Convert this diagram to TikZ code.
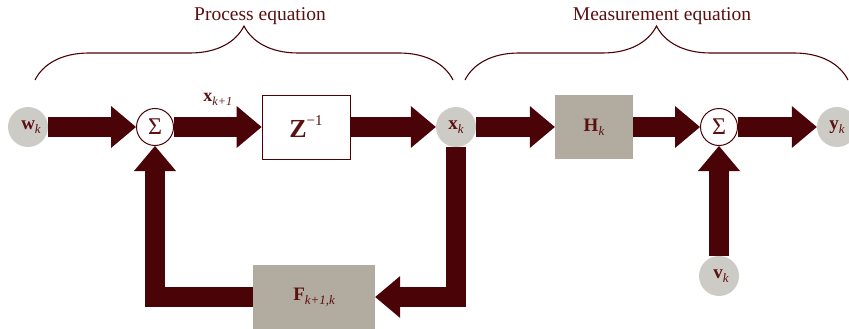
\documentclass[tikz,border=0pt]{standalone}
\usepackage{fontspec}
\usepackage{graphicx}
\setmainfont{Liberation Serif}
\usetikzlibrary{arrows.meta, decorations.pathreplacing, calc}

\definecolor{darkmaroon}{RGB}{74,3,7}
\definecolor{txtmaroon}{RGB}{92,16,16}
\definecolor{signalgray}{RGB}{204,203,198}
\definecolor{boxgray}{RGB}{178,171,159}

% bold signal name with italic subscript
\newcommand{\sig}[2]{\textbf{#1}\raisebox{-0.45ex}{\scalebox{0.68}{\itshape\mdseries #2}}}

\tikzset{
    flow/.style={draw=darkmaroon, line width=20pt, line join=miter,
        -{Triangle[length=25pt, width=42pt, line width=0pt]}},
    signal/.style={circle, fill=signalgray, minimum size=40pt, inner sep=0pt,
        text=txtmaroon, font=\fontsize{19}{20}\selectfont},
    adder/.style={circle, draw=darkmaroon, fill=white, line width=1pt, minimum size=37pt,
        inner sep=0pt, text=txtmaroon, font=\fontsize{24}{24}\selectfont},
    block/.style={rectangle, minimum height=64pt, inner sep=0pt,
        text=txtmaroon, font=\fontsize{19}{20}\selectfont},
    equbrace/.style={draw=darkmaroon, line width=1.1pt, decorate,
        decoration={brace, amplitude=54pt}},
}

\begin{document}
\begin{tikzpicture}[x=1pt, y=-1pt]
    \clip (0,0) rectangle (849,329);

    % Braces
    \draw[equbrace] (35,80) -- (453,80);
    \draw[equbrace] (465,80) -- (848,80);
    \node[text=txtmaroon, font=\fontsize{19.5}{21}\selectfont] (proc) at (260,16) {Process equation};
    \node[text=txtmaroon, font=\fontsize{19.5}{21}\selectfont] (meas) at (662,16) {Measurement equation};

    % Blocchi
    \node[signal] (w) at (28,127) {\hspace*{6pt}\sig{w}{k}};
    \node[adder] (sum1) at (155,127) {Σ};
    \node[block, draw=darkmaroon, fill=white, line width=0.8pt, minimum width=88pt] (z) at (306,127)
        {\fontsize{26}{26}\selectfont\textbf{Z}\raisebox{1.0ex}{\fontsize{15}{15}\selectfont −1}};
    \node[signal] (xk) at (456,127) {\sig{x}{k}};
    \node[block, fill=boxgray, minimum width=78pt] (H) at (594,127) {\sig{H}{k}};
    \node[adder] (sum2) at (719,127) {Σ};
    \node[signal] (y) at (837,127) {\sig{y}{k}};
    \node[signal] (v) at (719,276) {\hspace*{4pt}\sig{v}{k}};
    \node[block, fill=boxgray, minimum width=122pt] (F) at (314,297) {\sig{F}{k+1,k}};

    % Frecce
    \draw[flow] (w.east) -- (sum1.west);
    \draw[flow] (sum1.east) -- (z.west)
        node[midway, above=8pt, text=txtmaroon, font=\fontsize{18}{20}\selectfont] {\sig{x}{k+1}};
    \draw[flow] (z.east) -- (xk.west);
    \draw[flow] (xk.east) -- (H.west);
    \draw[flow] (H.east) -- (sum2.west);
    \draw[flow] (sum2.east) -- (y.west);
    \draw[flow] (v.north) -- (sum2.south);

    % Retroazione
    \draw[flow] (xk.south) -- (xk.south |- F.east) -- (F.east);
    \draw[flow] (F.west) -- (F.west -| sum1.south) -- (sum1.south);
\end{tikzpicture}
\end{document}
